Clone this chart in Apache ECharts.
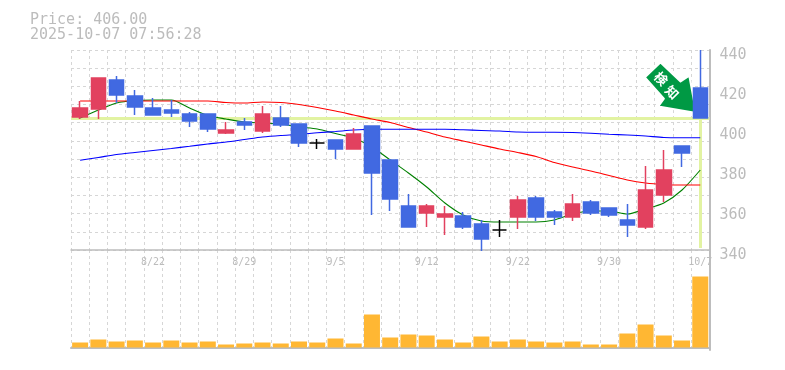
<!DOCTYPE html>
<html><head><meta charset="utf-8">
<style>html,body{margin:0;padding:0;background:#fff}#c{width:785px;height:370px}</style>
<script src="https://cdn.jsdelivr.net/npm/echarts@6/dist/echarts.min.js"></script>
</head><body><div id="c"></div>
<script>
const headerLines = ['Price: 406.00', '2025-10-07 07:56:28'];
const dates = ['8/18','8/19','8/20','8/21','8/22','8/25','8/26','8/27','8/28','8/29','9/1','9/2','9/3','9/4','9/5','9/8','9/9','9/10','9/11','9/12','9/16','9/17','9/18','9/19','9/22','9/24','9/25','9/26','9/29','9/30','10/1','10/2','10/3','10/6','10/7'];
const opens  = [406.5,410.5,425,417,411,410,408,408,398.5,404,399.5,406,403,393.5,395,390.5,402,385,362,358.5,356.5,357,353,350,356.5,366,359,356.5,364,361,355,351.5,367.5,392,421];
const closes = [411,426,417.5,411.5,407.5,408.5,404.5,400.5,400,402.5,408,402.5,393.5,393.5,390.5,398,378.5,365.5,351.5,362,358,351.5,345.5,350,365,356.5,356.5,363,358.5,357.5,352.5,370,380,388.5,406];
const lows   = [405.5,405.5,413.5,407.5,407.5,406.5,401.5,399,398,400,398.5,401.5,391.5,390.5,385.5,390.5,357.5,359.5,351.5,351.5,347.5,350.5,339.5,346.5,350.5,354.5,352.5,354.5,357.5,356.5,346.5,350.5,364,381.5,406];
const highs  = [414.5,426,427,420,416,415,409,408,404,406,412,412,403,395.5,395,401,402,385.5,368,363,362,359,355,355,367,367,360,368,365,361,363,382,390,392,440];
const maShort = [406,410,413.5,414.75,415,415,411,407.25,405.5,404,403.5,403,401.5,400.5,398.25,396,391.5,385,378.5,371.5,363.5,357.5,354.5,354,354,354,355,358,359.5,359.5,358,360.5,363.5,370,380];
const maMid   = [414.5,414.5,414.5,414.5,414.5,414.5,414.5,414.5,413.75,413.5,414,413.75,412.75,411.25,409.5,407.5,405.5,403.75,401.25,399,396.5,394.5,392.5,390.5,388.75,386.75,383.75,381.5,379.5,377.25,375,373.5,372.75,372.5,372.5];
const maLong  = [384.85,386.25,387.75,388.75,389.75,390.75,391.85,393,394,395.25,396.5,397.25,397.75,398.6,399.25,400,400.35,400.35,400.35,400.35,400.35,400.1,399.75,399.5,399,398.85,398.85,398.75,398.35,397.85,397.5,397,396.25,396.15,396.15];
const volumes = [5,8,6,7,5,7,5,6,3,4,5,4,6,5,9,4,33,10,13,12,8,5,11,6,8,6,5,6,3,3,14,23,12,7,71];
const priceTicks = {min:340,max:440,step:20};
const lastPrice = 406;
const arrowWords = ['検','知'];

const GRID = '#d6d6d6', AXIS = '#bdbdbd', TXT = '#bcbcbc';
const RED = '#E2415F', BLUE = '#4169E1';
const FONT = 'DejaVu Sans Mono';
const L = 71, W = 638.4;
const candle = dates.map((d,i)=>{
  const v=[opens[i],closes[i],lows[i],highs[i]];
  return opens[i]===closes[i] ? {value:v,itemStyle:{color:'#000',color0:'#000',borderColor:'#000',borderColor0:'#000',borderColorDoji:'#000'}} : v;
});
const vSplit = {show:true,interval:0,lineStyle:{color:GRID,type:[3,3],width:1}};
const line = (name,data,color)=>({name,type:'line',data,smooth:0.25,symbol:'none',lineStyle:{color,width:1.1},z:2,silent:true,animation:false});
const chart = echarts.init(document.getElementById('c'),null,{renderer:'canvas'});
chart.setOption({
  animation:false,
  backgroundColor:'#fff',
  title:{text:headerLines.join('\n'),left:30,top:13,padding:0,textStyle:{fontFamily:FONT,fontSize:15,fontWeight:'normal',color:TXT,lineHeight:15}},
  grid:[{left:L,width:W,top:50,height:200},{left:L,width:W,top:250,height:100},{left:L,width:W,top:55,height:200}],
  xAxis:[
   {type:'category',gridIndex:0,data:dates,boundaryGap:true,
    axisLine:{show:true,lineStyle:{color:AXIS,width:1.5}},axisTick:{show:false},splitLine:vSplit,
    axisLabel:{show:true,interval:(i)=>i%5===4,margin:7,color:TXT,fontFamily:FONT,fontSize:10,hideOverlap:false}},
   {type:'category',gridIndex:1,data:dates,boundaryGap:true,
    axisLine:{show:true,lineStyle:{color:AXIS,width:2}},axisTick:{show:false},splitLine:vSplit,axisLabel:{show:false}},
   {type:'category',gridIndex:2,data:dates,show:false}
  ],
  yAxis:[
   {type:'value',gridIndex:0,position:'right',min:priceTicks.min,max:priceTicks.max,interval:priceTicks.step,
    axisLine:{show:true,lineStyle:{color:AXIS,width:2}},axisTick:{show:false},splitLine:{show:false},axisLabel:{show:false}},
   {type:'value',gridIndex:0,position:'left',min:0,max:11,interval:1,
    axisLine:{show:false},axisTick:{show:false},axisLabel:{show:false},splitLine:{show:true,lineStyle:{color:GRID,type:[3,3],width:1}}},
   {type:'value',gridIndex:1,position:'right',min:-2.5,max:97.5,
    axisLine:{show:true,lineStyle:{color:AXIS,width:2}},axisTick:{show:false},splitLine:{show:false},axisLabel:{show:false}},
   {type:'value',gridIndex:2,position:'right',min:priceTicks.min,max:priceTicks.max,interval:priceTicks.step,
    axisLine:{show:false},axisTick:{show:false},splitLine:{show:false},
    axisLabel:{margin:10,color:TXT,fontFamily:FONT,fontSize:15}}
  ],
  series:[
   {name:'guide',type:'line',xAxisIndex:0,yAxisIndex:0,data:[],z:1,
    markLine:{silent:true,symbol:'none',label:{show:false},animation:false,z:1,
      lineStyle:{color:'#E2F3A2',width:3,type:'solid',opacity:1},
      data:[[{xAxis:0,yAxis:lastPrice,x:L},{xAxis:34,yAxis:lastPrice,x:L+W}],
            [{xAxis:dates[34],yAxis:lastPrice},{xAxis:dates[34],yAxis:341}]]}},
   line('short',maShort,'#008000'),
   line('mid',maMid,'#FF0000'),
   line('long',maLong,'#0000FF'),
   {name:'candle',type:'candlestick',xAxisIndex:0,yAxisIndex:0,data:candle,barWidth:15,z:3,silent:true,
    itemStyle:{color:RED,color0:BLUE,borderColor:RED,borderColor0:BLUE,borderColorDoji:'#000',borderWidth:1.5}},
   {name:'volume',type:'bar',xAxisIndex:1,yAxisIndex:2,data:volumes,barWidth:16,itemStyle:{color:'#FFB733'},silent:true}
  ]
});
const tip = chart.convertToPixel({xAxisIndex:0,yAxisIndex:0},[34,lastPrice+2.5]);
const shift = [-4,0];
const wordPos = [[-35.3,-34.3],[-24.3,-20.7]];
chart.setOption({graphic:[{
  type:'group',x:tip[0]+shift[0],y:tip[1]+shift[1],z:20,silent:true,
  children:[
   {type:'polygon',shape:{points:[[-35.7,-50.6],[-51.4,-35.6],[-32.4,-14.3],[-38,-6.6],[0,0],[-7,-37.3],[-15.7,-31.6]]},
    style:{fill:'#009944',stroke:'#fff',lineWidth:2,lineJoin:'round'}}
  ].concat(arrowWords.map((w,i)=>({type:'text',x:wordPos[i][0],y:wordPos[i][1],rotation:-Math.PI/4,
    style:{text:w,fill:'#fff',font:'bold 13px "Noto Sans CJK JP"',align:'center',verticalAlign:'middle'}})))
  }]});
</script></body></html>
